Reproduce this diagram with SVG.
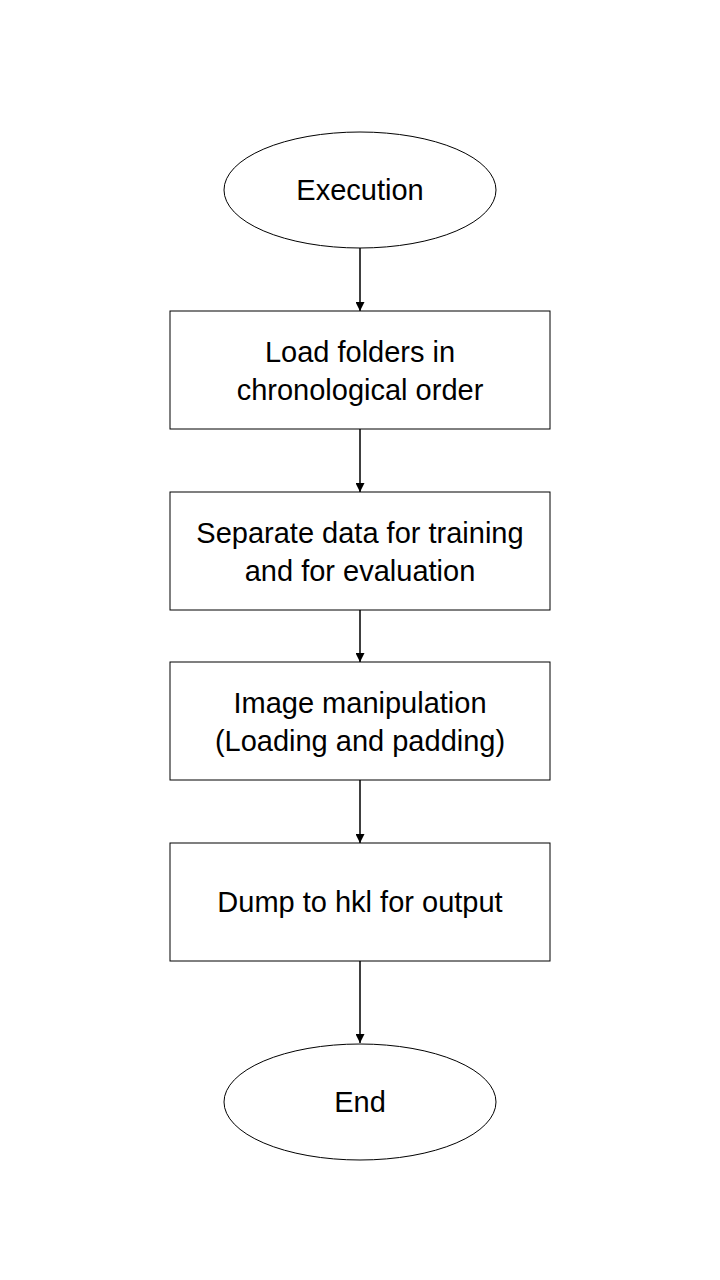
<svg xmlns="http://www.w3.org/2000/svg" width="720" height="1280" viewBox="0 0 720 1280">
<style>
.shape{fill:#fff;stroke:#000;stroke-width:1}
.lbl{font-family:"Liberation Sans",Arial,sans-serif;font-size:29px;fill:#000;text-anchor:middle;dominant-baseline:central}
.conn{stroke:#000;stroke-width:1.5;fill:none;marker-end:url(#arr)}
</style>
<defs>
<marker id="arr" viewBox="0 0 10 10" refX="10" refY="5" markerWidth="6" markerHeight="6" markerUnits="strokeWidth" orient="auto">
<path d="M0,0 L10,5 L0,10 z" fill="#000"/>
</marker>
</defs>
<rect width="720" height="1280" fill="#fff"/>
<g id="connectors">
<line class="conn" x1="360" y1="248" x2="360" y2="311"/>
<line class="conn" x1="360" y1="429" x2="360" y2="492"/>
<line class="conn" x1="360" y1="610" x2="360" y2="662"/>
<line class="conn" x1="360" y1="780" x2="360" y2="843"/>
<line class="conn" x1="360" y1="961" x2="360" y2="1043"/>
</g>
<g id="execution">
<ellipse class="shape" cx="360" cy="190" rx="136" ry="58"/>
<text class="lbl" x="360" y="190">Execution</text>
</g>
<g id="load">
<rect class="shape" x="170" y="311" width="380" height="118"/>
<text class="lbl" x="360" y="352">Load folders in</text>
<text class="lbl" x="360" y="390">chronological order</text>
</g>
<g id="separate">
<rect class="shape" x="170" y="492" width="380" height="118"/>
<text class="lbl" x="360" y="533">Separate data for training</text>
<text class="lbl" x="360" y="571">and for evaluation</text>
</g>
<g id="image">
<rect class="shape" x="170" y="662" width="380" height="118"/>
<text class="lbl" x="360" y="703">Image manipulation</text>
<text class="lbl" x="360" y="741">(Loading and padding)</text>
</g>
<g id="dump">
<rect class="shape" x="170" y="843" width="380" height="118"/>
<text class="lbl" x="360" y="902">Dump to hkl for output</text>
</g>
<g id="end">
<ellipse class="shape" cx="360" cy="1102" rx="136" ry="58"/>
<text class="lbl" x="360" y="1102">End</text>
</g>
</svg>
